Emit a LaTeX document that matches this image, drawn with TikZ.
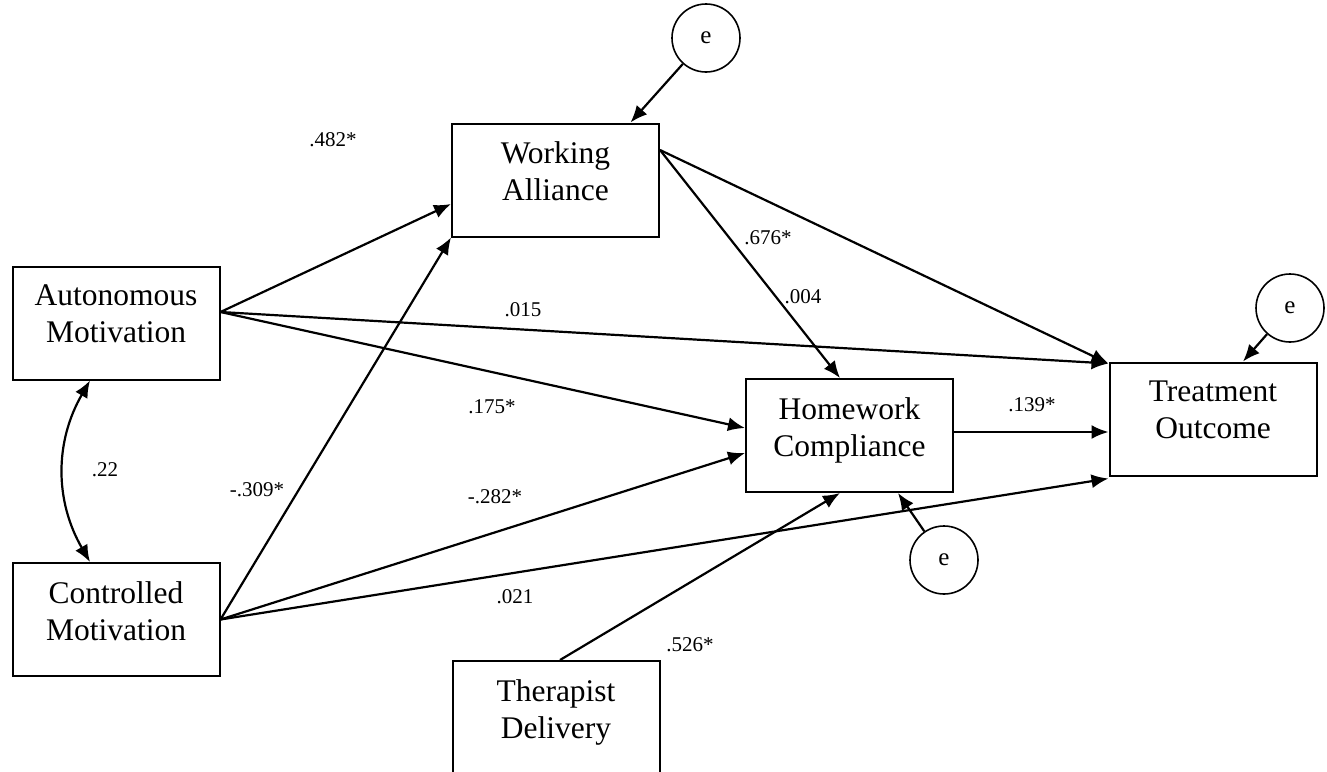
\documentclass[tikz,border=0pt]{standalone}
\usepackage{fontspec}
\setmainfont{Liberation Serif}
\usetikzlibrary{arrows.meta,calc}
\begin{document}
\begin{tikzpicture}[x=1pt,y=-1pt,
  box/.style={draw,line width=2pt,minimum width=207pt,minimum height=113pt,inner sep=0pt},
  boxtext/.style={align=center,font=\fontsize{31.5}{37}\selectfont,anchor=north,inner sep=0pt},
  errnode/.style={draw,circle,line width=1.6pt,minimum size=68pt,inner sep=0pt,font=\fontsize{25}{25}\selectfont},
  effect/.style={line width=2.2pt,-{Latex[length=17pt,width=14pt]}},
  coef/.style={font=\fontsize{21}{21}\selectfont,inner sep=0pt}]
\useasboundingbox (0,0) rectangle (1327,771);
\clip (0,0) rectangle (1327,771);

% variables
\node[box] (auto)  at (116,323)   {};
\node[box] (ctrl)  at (116,619.5) {};
\node[box] (wa)    at (555.5,180) {};
\node[box] (hw)    at (849.5,435.5) {};
\node[box] (treat) at (1213,419)  {};
\node[box] (ther)  at (556,717.5) {};

\node[boxtext] (autot)  at ([yshift=-19pt]auto.north)  {Autonomous\\Motivation};
\node[boxtext] (ctrlt)  at ([yshift=-19pt]ctrl.north)  {Controlled\\Motivation};
\node[boxtext] (wat)    at ([yshift=-19pt]wa.north)    {Working\\Alliance};
\node[boxtext] (hwt)    at ([yshift=-19pt]hw.north)    {Homework\\Compliance};
\node[boxtext] (treatt) at ([yshift=-19pt]treat.north) {Treatment\\Outcome};
\node[boxtext] (thert)  at ([yshift=-19pt]ther.north)  {Therapist\\Delivery};

% error terms
\node[errnode] (ewa)    at (706,38)   {e};
\node[errnode] (etreat) at (1290,308) {e};
\node[errnode] (ehw)    at (944,560)  {e};

% paths
\draw[effect] ([yshift=11pt]auto.east) -- ([yshift=-24pt]wa.west);
\draw[effect] ([yshift=11pt]auto.east) -- ([yshift=-2pt]treat.north west);
\draw[effect] ([yshift=11pt]auto.east) -- ([yshift=7.5pt]hw.west);
\draw[effect] (ctrl.east) -- (wa.south west);
\draw[effect] (ctrl.east) -- ([yshift=-17.5pt]hw.west);
\draw[effect] (ctrl.east) -- ([yshift=-2pt]treat.south west);
\draw[effect] ([yshift=30pt]wa.east) -- ([yshift=-2pt]treat.north west);
\draw[effect] ([yshift=30pt]wa.east) -- ([xshift=-9.5pt]hw.north);
\draw[effect] ([yshift=3.5pt]hw.east) -- ([yshift=-13pt]treat.west);
\draw[effect] ([xshift=4pt]ther.north) -- ([xshift=-9.5pt]hw.south);
\draw[effect] (ehw) -- ([xshift=48.5pt]hw.south);
\draw[effect] (etreat) -- ([xshift=30pt]treat.north);
\draw[effect] (ewa) -- ([xshift=75pt]wa.north);

% correlation
\draw[line width=2.2pt,{Latex[length=17pt,width=14pt]}-{Latex[length=17pt,width=14pt]}]
  ([xshift=-26pt]auto.south) to[bend right=30] ([xshift=-26pt]ctrl.north);

% coefficients
\node[coef] (c482) at (333,140) {.482*};
\node[coef] (c015) at (523,310) {.015};
\node[coef] (c175) at (492,407) {.175*};
\node[coef] (c22)  at (105,470) {.22};
\node[coef] (c309) at (257,490) {-.309*};
\node[coef] (c282) at (495,497) {-.282*};
\node[coef] (c021) at (515,597) {.021};
\node[coef] (c526) at (690,645) {.526*};
\node[coef] (c004) at (803,297) {.004};
\node[coef] (c676) at (768,238) {.676*};
\node[coef] (c139) at (1032,405) {.139*};
\end{tikzpicture}
\end{document}
